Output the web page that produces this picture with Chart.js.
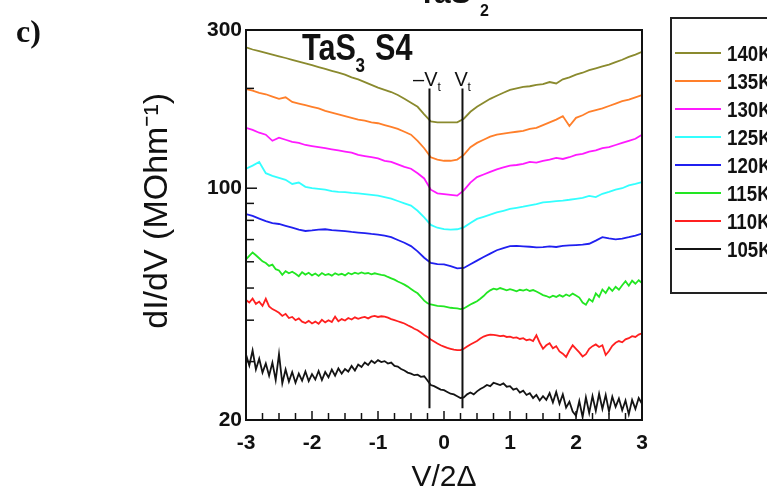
<!DOCTYPE html>
<html>
<head>
<meta charset="utf-8">
<script src="https://cdn.jsdelivr.net/npm/chart.js@4.4.1/dist/chart.umd.min.js"></script>
<style>
  html, body { margin: 0; padding: 0; background: #fff; }
  #wrap { width: 767px; height: 494px; position: relative; }
</style>
</head>
<body>
<div id="wrap"><canvas id="dIdV"></canvas></div>
<script>
// V/2Delta sampling grids
var vCoarse = [];
for (var i = 0; i <= 60; i++) vCoarse.push(Math.round((-3 + i * 0.1) * 100) / 100);
var vFine = [];
for (var j = 0; j <= 120; j++) vFine.push(Math.round((-3 + j * 0.05) * 100) / 100);

// dI/dV (MOhm^-1)
var t140 = [266,262,259,256,253,250,247,244,241,238, 235,232,229,226,223,220,216,213,209,205,
            201,198,195,191,186,181,176,167,159,158, 158,158,158,162,170,176,181,186,190,194,
            198,200,202,203,205,206,209,207,213,216, 220,223,227,230,233,236,240,244,249,253, 258];
var t135 = [199,197,194,192,189,186,188,182,180,178, 176,174,171,169,167,165,163,161,160,158,
            157,155,153,151,148,145,139,132,124,122, 121,121,122,126,133,137,140,143,145,146,
            147,148,149,151,152,155,158,161,165,154, 163,166,170,172,174,177,180,183,185,188, 191];
var t130 = [152,150,147,145,139,142,140,138,137,135, 134,133,132,131,130,129,128,126,125,124,
            123,121,120,118,116,114.5,111,107,99,96.5, 96,95.5,95,98.5,104,108,110,112,114,115.5,
            117,117.5,118.5,120,119.5,121,122,123.5,122.5,124, 126,127,129,130,132,133,135,137,139,141, 145];
var t125 = [114.5,117,120,111,109,107.5,106,103,104,101, 100,99.5,99,98,97.5,97.3,96.8,96.5,96,95.5,
            95,94,93,91.5,90,88.6,85.5,81.7,77.5,76, 75.3,75,75.2,76.2,78.5,80.8,82,83.2,84.5,85.5,
            86.6,87.3,88,88.8,89.6,90.6,91,91.4,91.8,92.3, 92.9,93.5,94.8,94,96.2,97.5,99,100,102,103, 104.3];
var t120 = [83.6,82.5,81,79.6,78.5,78,77,76,75,74.3, 74.6,75,75.2,74.8,74.5,74.2,73.8,73.5,73.2,72.8,
            72.5,72,71.2,69.8,68.5,66.9,64.5,61.7,59.5,59, 58.9,58.2,57.3,57.5,59,60.5,62,63.5,65,66,
            66.9,67,66.8,66.6,66.3,66.4,66.8,66.5,67,67.2, 67.4,67.6,68,69.5,71.2,70.6,70.1,70.5,71.2,72, 73];
var t115 = [61,62.5,64,62.8,61.5,60.2,59.5,58.3,58.8,57, 56.5,54.8,56.2,55.4,56,55.2,54.3,55.8,54.9,55.6,
            54.6,55.3,54.4,55.5,54.7,55.1,54.5,55.4,54.8,55.2, 54.6,55.5,55,55.6,55.2,55.7,55.3,55.5,55,55.4,
            55.1,54.8,54.6,54,53.5,53,52.3,51.8,51.2,50.5, 49.7,48.9,48.2,47,45.8,45,44.6,44.4,44.2,44.1,
            44,43.8,43.6,43.5,43.4,43.2,43.4,44,44.6,45.1, 45.6,46.4,47.3,48.4,49.2,49.8,49.5,50,49.6,49.2,
            49.6,49.3,48.9,49.4,49.1,49.5,49,49.3,48.8,48.2, 47.6,47.3,46.8,47.4,47,47.6,47.1,47.8,47.3,48.1,
            47.5,46.8,45.2,44.5,46.3,45.5,48.2,47,49.5,48.3, 50.2,49,50.4,49.4,51,52.4,50.8,52.6,51.5,52.8, 51.8];
var t110 = [46,45.2,46.5,44.8,45.5,44.2,46.4,44,43.2,42.7, 42.1,41.2,41.8,40.6,40.9,40,40.5,39.6,39.2,39.8,
            39.1,39.6,39,40.1,39.4,40,39.5,41,39.7,40.3, 39.9,40.6,40.2,40.8,40.4,40.7,40.9,40.5,41,41.2,
            40.9,41.1,41,40.7,40.3,40,39.7,39.4,39.1,38.6, 38.2,37.7,37.3,36.7,36.1,35.6,35,34.5,34,33.6,
            33.3,33,32.8,32.6,32.5,32.5,32.8,33.3,33.8,34.2, 34.6,35.2,35.7,36,36.2,36.1,36,35.8,35.9,35.6,
            35.7,35.4,35.5,35.1,35.3,34.8,35,34.6,36,34.2, 32.8,33.6,34.1,32.9,33.4,32.2,31.7,31,32.4,33.6,
            32.8,32,31.1,31.6,32.8,33.4,33.8,33.2,33.6,31.4, 32.3,33.5,34.2,34.6,34.3,35,35.3,35.8,35.6,36.2, 36.5];
var t105 = [31.5,29.2,32.4,28.4,30.6,27.8,29.6,27.2,29.8,26.4, 31.6,25.8,28.4,26.1,27.9,25.9,27.6,26.3,28,26.2,
            27.5,26.5,28.1,26.4,27.9,26.9,28.4,27.2,28.6,27.6, 28.5,28,29.1,28.2,29.4,28.9,29.8,29.3,30.2,29.7,
            30.3,29.9,30.1,29.6,29.8,29.1,29,28.5,28.2,27.8, 27.6,27.3,27.4,27,27.1,26.3,25.5,25.3,25,24.7,
            24.6,24.3,24,23.9,23.6,23.3,23.4,23.9,24.2,23.9, 24.4,24.8,25.1,25.5,25.3,25.9,25.7,25.5,25.8,25.2,
            25.3,24.7,24.9,24.2,24.5,23.8,24.1,23.3,23.8,22.9, 23.6,23,24.1,22.6,24.3,22.4,23.9,21.8,22.7,21.2,
            20.6,22.8,20.4,23.4,21,23.6,21.3,24,21.6,23.8, 21.2,23.5,21.9,23.2,21.4,22.9,20.8,23,21.6,23.3, 22.4];

var seriesLabels = ['140K', '135K', '130K', '125K', '120K', '115K', '110K', '105K'];
var seriesColors = ['#8a8a2e', '#ff7f2a', '#ff1aff', '#33ffff', '#2020f0', '#22e622', '#ff2020', '#141414'];
var seriesData = [t140, t135, t130, t125, t120, t115, t110, t105];
var seriesGrid = [vCoarse, vCoarse, vCoarse, vCoarse, vCoarse, vFine, vFine, vFine];

var xTicks = [-3, -2, -1, 0, 1, 2, 3];
var yTickLabels = [20, 100, 300];
var yMinorTicks = [30, 40, 50, 60, 70, 80, 90, 200];
var vtMarks = [-0.22, 0.28];
var vtRange = [21.7, 200];

function line(ctx, x1, y1, x2, y2) {
  ctx.beginPath(); ctx.moveTo(x1, y1); ctx.lineTo(x2, y2); ctx.stroke();
}

var decor = {
  id: 'decor',
  afterDraw: function (chart) {
    var ctx = chart.ctx, a = chart.chartArea;
    var xs = chart.scales.x, ys = chart.scales.y;
    ctx.save();
    ctx.strokeStyle = '#111';
    // inner ticks
    ctx.lineWidth = 1.5;
    for (var k = 0; k <= 24; k++) {
      var v = -3 + k * 0.25;
      var px = xs.getPixelForValue(v);
      line(ctx, px, a.bottom, px, a.bottom - (k % 4 === 0 ? 9 : 7));
    }
    yMinorTicks.forEach(function (v) {
      var py = ys.getPixelForValue(v);
      line(ctx, a.left, py, a.left + 8, py);
    });
    yTickLabels.forEach(function (v) {
      var py = ys.getPixelForValue(v);
      line(ctx, a.left, py, a.left + 11, py);
    });
    // frame
    ctx.lineWidth = 2;
    ctx.strokeRect(a.left, a.top, a.right - a.left, a.bottom - a.top);
    // threshold lines
    vtMarks.forEach(function (v) {
      var px = xs.getPixelForValue(v);
      line(ctx, px, ys.getPixelForValue(vtRange[1]), px, ys.getPixelForValue(vtRange[0]));
    });
    ctx.fillStyle = '#111';
    ctx.textBaseline = 'alphabetic';
    var p0 = xs.getPixelForValue(vtMarks[0]), p1 = xs.getPixelForValue(vtMarks[1]);
    ctx.font = '20px "Liberation Sans", Arial, sans-serif';
    ctx.textAlign = 'right';
    ctx.fillText('\u2013V', p0 + 8, 86);
    ctx.textAlign = 'left';
    ctx.fillText('V', p1 - 8, 86);
    ctx.font = '12px "Liberation Sans", Arial, sans-serif';
    ctx.fillText('t', p0 + 8, 91);
    ctx.fillText('t', p1 + 5, 91);

    // sample label inside the plot
    ctx.save();
    ctx.translate(302, 60);
    ctx.scale(0.85, 1);
    ctx.font = 'bold 36px "Liberation Sans", Arial, sans-serif';
    ctx.fillText('TaS', 0, 0);
    ctx.font = 'bold 20px "Liberation Sans", Arial, sans-serif';
    ctx.fillText('3', 63, 12);
    ctx.font = 'bold 36px "Liberation Sans", Arial, sans-serif';
    ctx.fillText('S4', 86, 0);
    ctx.restore();

    // panel letter and cropped caption
    ctx.font = 'bold 32px "Liberation Serif", "Times New Roman", serif';
    ctx.fillText('c)', 16, 42);
    ctx.font = 'bold 30px "Liberation Sans", Arial, sans-serif';
    ctx.fillText('TaS', 418, 3);
    ctx.font = 'bold 16px "Liberation Sans", Arial, sans-serif';
    ctx.fillText('2', 480, 16);

    // legend
    ctx.lineWidth = 2;
    ctx.strokeStyle = '#222';
    ctx.strokeRect(671, 18, 130, 275);
    chart.data.datasets.forEach(function (ds, n) {
      var ly = 53 + n * 28;
      ctx.strokeStyle = ds.borderColor;
      ctx.lineWidth = 2;
      line(ctx, 675, ly, 721, ly);
      ctx.save();
      ctx.translate(727, ly + 8);
      ctx.scale(0.85, 1);
      ctx.fillStyle = '#111';
      ctx.font = 'bold 22px "Liberation Sans", Arial, sans-serif';
      ctx.fillText(ds.label, 0, 0);
      ctx.restore();
    });
    ctx.restore();
  }
};

var datasets = seriesLabels.map(function (lab, n) {
  return {
    label: lab,
    data: seriesGrid[n].map(function (v, i) { return { x: v, y: seriesData[n][i] }; }),
    borderColor: seriesColors[n],
    backgroundColor: seriesColors[n],
    borderWidth: 1.8,
    pointRadius: 0,
    tension: 0
  };
});

new Chart(document.getElementById('dIdV'), {
  type: 'line',
  data: { datasets: datasets },
  options: {
    responsive: true,
    maintainAspectRatio: false,
    animation: false,
    layout: { padding: { left: 0, right: 125, top: 30, bottom: 0 } },
    plugins: { legend: { display: false }, tooltip: { enabled: false } },
    scales: {
      x: {
        type: 'linear',
        min: -3, max: 3,
        afterFit: function (s) { s.height = 74; },
        afterBuildTicks: function (s) { s.ticks = xTicks.map(function (v) { return { value: v }; }); },
        grid: { display: false, drawTicks: false },
        border: { display: false },
        ticks: {
          color: '#111', padding: 11,
          font: { family: '"Liberation Sans", Arial, sans-serif', size: 21, weight: 'bold' },
          callback: function (v) { return String(v); }
        },
        title: {
          display: true, text: 'V/2\u0394', color: '#111',
          font: { family: '"Liberation Sans", Arial, sans-serif', size: 30, lineHeight: 1 },
          padding: { top: 0, bottom: 1 }
        }
      },
      y: {
        type: 'logarithmic',
        min: 20, max: 300,
        afterFit: function (s) { s.width = 246; },
        afterBuildTicks: function (s) { s.ticks = yTickLabels.map(function (v) { return { value: v }; }); },
        grid: { display: false, drawTicks: false },
        border: { display: false },
        ticks: {
          color: '#111', padding: 4,
          font: { family: '"Liberation Sans", Arial, sans-serif', size: 21, weight: 'bold' },
          callback: function (v) { return String(v); }
        },
        title: {
          display: true, text: '   dI/dV (MOhm\u207B\u00B9)', color: '#111',
          font: { family: '"Liberation Sans", Arial, sans-serif', size: 34 },
          padding: { top: 137, bottom: 0 }
        }
      }
    }
  },
  plugins: [decor]
});
</script>
</body>
</html>
